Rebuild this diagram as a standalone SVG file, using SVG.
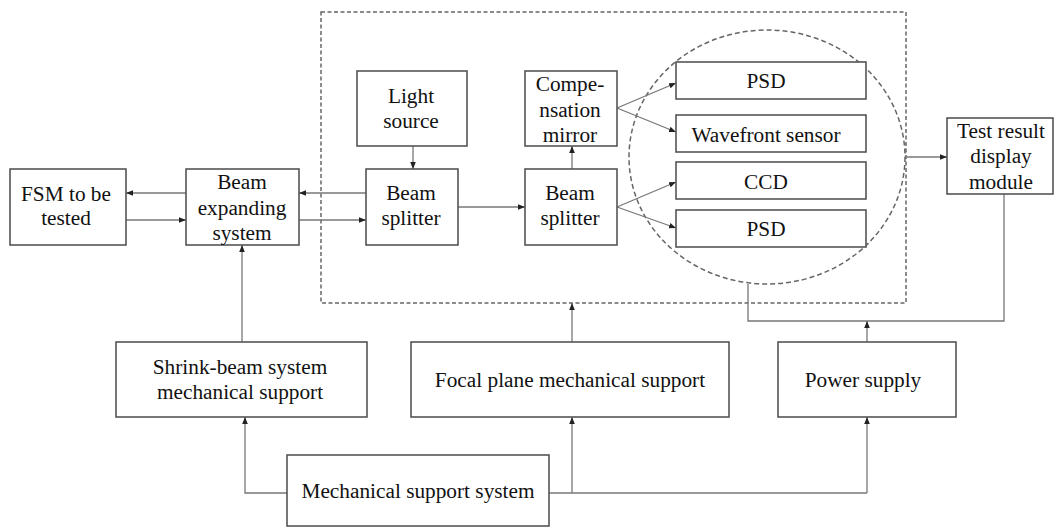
<svg xmlns="http://www.w3.org/2000/svg" width="1054" height="527" viewBox="0 0 1054 527">
<style>
.box{fill:#fff;stroke:#555;stroke-width:1.6}
.t{font-family:'Liberation Serif','Times New Roman',Times,'DejaVu Serif',serif;font-size:21.3px;fill:#111;text-anchor:middle}
.c{fill:none;stroke:#777;stroke-width:1.3}
.d{fill:none;stroke:#666;stroke-width:1.5;stroke-dasharray:4,2.5}
.e{fill:none;stroke:#666;stroke-width:1.5;stroke-dasharray:5,3}
</style>
<defs>
<marker id="a" viewBox="0 0 10 10" refX="10" refY="5" markerWidth="7" markerHeight="7" markerUnits="userSpaceOnUse" orient="auto"><path d="M0,1 L10,5 L0,9 Z" fill="#222"/></marker>
</defs>
<rect width="1054" height="527" fill="#fff"/>
<g id="dashed-frame"><rect class="d" x="321" y="12" width="585" height="291"/></g>
<g id="detector-circle"><ellipse class="e" cx="767" cy="157" rx="138" ry="127"/></g>
<g id="connectors">
<line class="c" x1="186" y1="193" x2="126" y2="193" marker-end="url(#a)"/>
<line class="c" x1="126" y1="220" x2="186" y2="220" marker-end="url(#a)"/>
<line class="c" x1="366" y1="193" x2="299" y2="193" marker-end="url(#a)"/>
<line class="c" x1="299" y1="220" x2="366" y2="220" marker-end="url(#a)"/>
<line class="c" x1="413" y1="146" x2="413" y2="169" marker-end="url(#a)"/>
<line class="c" x1="458" y1="207" x2="525" y2="207" marker-end="url(#a)"/>
<line class="c" x1="572" y1="169" x2="572" y2="146" marker-end="url(#a)"/>
<line class="c" x1="617" y1="108" x2="676" y2="83" marker-end="url(#a)"/>
<line class="c" x1="617" y1="108" x2="676" y2="132" marker-end="url(#a)"/>
<line class="c" x1="617" y1="207" x2="676" y2="182" marker-end="url(#a)"/>
<line class="c" x1="617" y1="207" x2="676" y2="228" marker-end="url(#a)"/>
<line class="c" x1="906" y1="157" x2="947" y2="157" marker-end="url(#a)"/>
<polyline class="c" points="748,284 748,321 1004,321 1004,194"/>
<line class="c" x1="867" y1="342" x2="867" y2="321" marker-end="url(#a)"/>
<line class="c" x1="242" y1="342" x2="242" y2="245" marker-end="url(#a)"/>
<line class="c" x1="572" y1="342" x2="572" y2="303" marker-end="url(#a)"/>
<polyline class="c" points="287,493 245,493 245,417" marker-end="url(#a)"/>
<line class="c" x1="549" y1="493" x2="867" y2="493"/>
<line class="c" x1="572" y1="493" x2="572" y2="417" marker-end="url(#a)"/>
<line class="c" x1="867" y1="493" x2="867" y2="417" marker-end="url(#a)"/>
</g>
<g id="fsm"><rect class="box" x="10" y="169" width="116" height="76"/><text class="t" x="66" y="201">FSM to be</text><text class="t" x="66" y="225">tested</text></g>
<g id="beam-expanding"><rect class="box" x="186" y="169" width="113" height="76"/><text class="t" x="242" y="189">Beam</text><text class="t" x="242" y="215">expanding</text><text class="t" x="242" y="240">system</text></g>
<g id="light-source"><rect class="box" x="357" y="71" width="110" height="75"/><text class="t" x="411" y="103">Light</text><text class="t" x="411" y="128">source</text></g>
<g id="beam-splitter-1"><rect class="box" x="366" y="169" width="92" height="76"/><text class="t" x="411" y="200">Beam</text><text class="t" x="411" y="225">splitter</text></g>
<g id="compensation-mirror"><rect class="box" x="525" y="71" width="92" height="75"/><text class="t" x="570" y="91">Compe-</text><text class="t" x="570" y="117">nsation</text><text class="t" x="570" y="142">mirror</text></g>
<g id="beam-splitter-2"><rect class="box" x="525" y="169" width="92" height="76"/><text class="t" x="570" y="200">Beam</text><text class="t" x="570" y="225">splitter</text></g>
<g id="psd-1"><rect class="box" x="676" y="62" width="190" height="37"/><text class="t" x="766" y="88">PSD</text></g>
<g id="wavefront-sensor"><rect class="box" x="676" y="115" width="190" height="37"/><text class="t" x="766" y="142">Wavefront sensor</text></g>
<g id="ccd"><rect class="box" x="676" y="162" width="190" height="37"/><text class="t" x="766" y="189">CCD</text></g>
<g id="psd-2"><rect class="box" x="676" y="210" width="190" height="37"/><text class="t" x="766" y="236">PSD</text></g>
<g id="test-result"><rect class="box" x="947" y="118" width="106" height="76"/><text class="t" x="1001" y="138">Test result</text><text class="t" x="1001" y="163">display</text><text class="t" x="1001" y="189">module</text></g>
<g id="shrink-beam"><rect class="box" x="116" y="342" width="251" height="75"/><text class="t" x="240" y="374">Shrink-beam system</text><text class="t" x="240" y="399">mechanical support</text></g>
<g id="focal-plane"><rect class="box" x="411" y="342" width="318" height="75"/><text class="t" x="570" y="387">Focal plane mechanical support</text></g>
<g id="power-supply"><rect class="box" x="778" y="342" width="178" height="75"/><text class="t" x="863" y="387">Power supply</text></g>
<g id="mechanical-support"><rect class="box" x="287" y="455" width="262" height="71"/><text class="t" x="418" y="498">Mechanical support system</text></g>
</svg>
